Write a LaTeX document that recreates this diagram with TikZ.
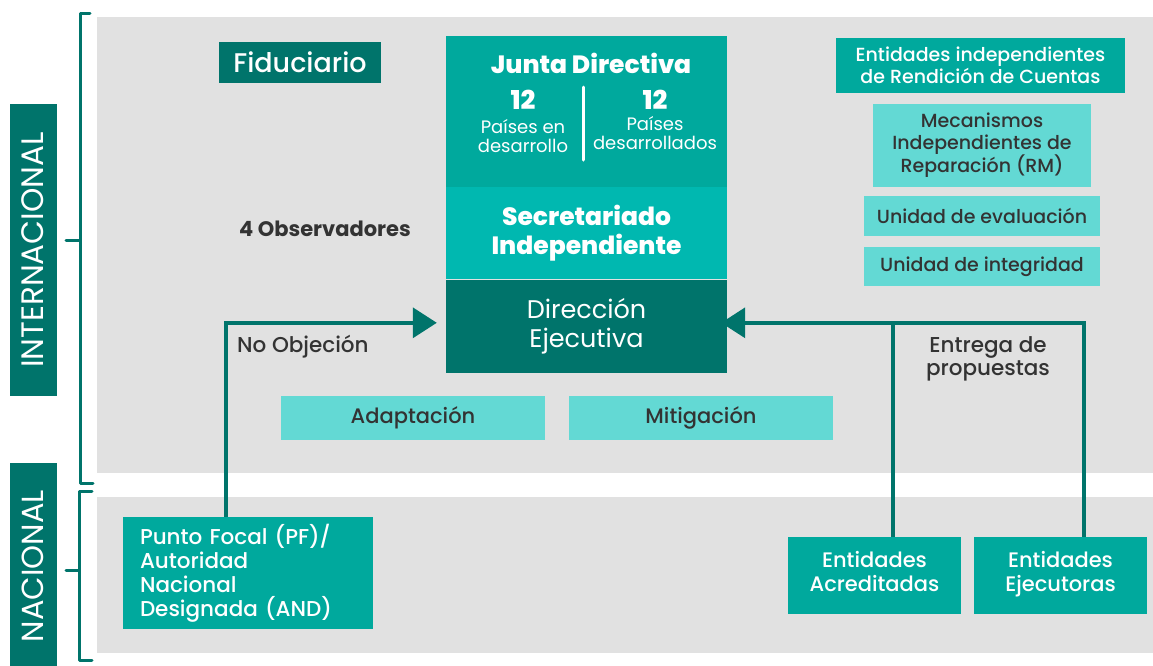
\documentclass[tikz,border=0pt]{standalone}
\usepackage{fontspec}
\setmainfont{Poppins}
\newfontfamily\medfont{Poppins Medium}
\newfontfamily\heavyfont{Poppins ExtraBold}
\usetikzlibrary{positioning,arrows.meta}

\definecolor{darkteal}{HTML}{00746B}
\definecolor{midteal}{HTML}{00A99D}
\definecolor{brightteal}{HTML}{00B8B0}
\definecolor{lightteal}{HTML}{63D9D4}
\definecolor{panelgray}{HTML}{E1E1E1}
\definecolor{inkgray}{HTML}{333333}

\begin{document}
\begin{tikzpicture}[x=1pt, y=-1pt, >={Triangle[length=24pt,width=30pt]}]

    \tikzstyle{darkbox}=[fill=darkteal, text=white, inner sep=0pt, align=center]
    \tikzstyle{midbox}=[fill=midteal, text=white, inner sep=0pt, align=center]
    \tikzstyle{lightbox}=[fill=lightteal, text=inkgray, inner sep=0pt, align=center, font=\medfont\fontsize{19}{21.5}\selectfont]
    \tikzstyle{note}=[text=inkgray, inner sep=0pt, font=\medfont\fontsize{21.5}{23}\selectfont]
    \tikzstyle{flow}=[->, darkteal, line width=3.5pt]
    \tikzstyle{bracket}=[darkteal, line width=3pt, line cap=round, line join=round]

    \useasboundingbox[fill=white] (0,0) rectangle (1153,665);

    % panels
    \fill[panelgray] (97,17) rectangle (1153,473);
    \fill[panelgray] (97,497) rectangle (1153,653);

    % brackets
    \draw[bracket] (90,13) -- (80,13) -- (80,483) -- (93,483);
    \draw[bracket] (66,240) -- (80,240);
    \draw[bracket] (92,491) -- (79,491) -- (79,660) -- (92,660);
    \draw[bracket] (66,570) -- (79,570);

    % level labels
    \node[darkbox, rotate=90, minimum width=292, minimum height=47,
          font=\fontsize{31}{34}\selectfont] (inter) at (33,250) {INTERNACIONAL};
    \node[darkbox, rotate=90, minimum width=206, minimum height=47,
          font=\fontsize{30.5}{34}\selectfont] (nac) at (33,566) {NACIONAL};

    % central column
    \node[midbox, minimum width=281, minimum height=151] (junta) at (586.5,111.5) {};
    \node[brightteal, fill=brightteal, minimum width=281, minimum height=92, inner sep=0pt,
          below=0pt of junta, text=white, align=center,
          font=\heavyfont\fontsize{25}{29}\selectfont] (secr) {Secretariado\\Independiente};
    \node[darkbox, minimum width=281, minimum height=93, below=0pt of secr,
          font=\fontsize{25.5}{29}\selectfont] (direc) {Dirección\\Ejecutiva};

    \node[text=white, font=\heavyfont\fontsize{25}{28}\selectfont] (jtitle) at (591,63) {Junta Directiva};
    \node[text=white, font=\heavyfont\fontsize{26}{28}\selectfont] (nleft) at (523,100) {12};
    \node[text=white, font=\heavyfont\fontsize{26}{28}\selectfont] (nright) at (655,100) {12};
    \node[text=white, align=center, inner sep=0pt, font=\fontsize{18}{18.5}\selectfont] (dev) at (523,136) {Países en\\desarrollo};
    \node[text=white, align=center, inner sep=0pt, font=\fontsize{18}{18.5}\selectfont] (devd) at (655,133) {Países\\desarrollados};
    \draw[white, line width=3pt, line cap=round] (583,87) -- (583,160);

    \node[darkbox, minimum width=162, minimum height=41,
          font=\medfont\fontsize{27}{30}\selectfont] (fid) at (300,62.5) {Fiduciario};
    \node[note, font=\bfseries\fontsize{21}{23}\selectfont] (obs) at (325,229) {4 Observadores};

    % right column
    \node[midbox, minimum width=289, minimum height=55,
          font=\medfont\fontsize{19}{21.5}\selectfont] (rend) at (980.5,65.5) {Entidades independientes\\de Rendición de Cuentas};
    \node[lightbox, minimum width=218, minimum height=83] (mec) at (982,145.5) {Mecanismos\\Independientes de\\Reparación (RM)};
    \node[lightbox, minimum width=236, minimum height=40] (eval) at (982,216) {Unidad de evaluación};
    \node[lightbox, minimum width=236, minimum height=39] (integ) at (982,266.5) {Unidad de integridad};

    % themes
    \node[lightbox, minimum width=264, minimum height=44,
          font=\medfont\fontsize{21}{23}\selectfont] (adap) at (413,418) {Adaptación};
    \node[lightbox, minimum width=264, minimum height=44,
          font=\medfont\fontsize{21}{23}\selectfont] (mitig) at (701,418) {Mitigación};

    % national actors
    \node[midbox, minimum width=250, minimum height=112, align=left, text width=216,
          font=\medfont\fontsize{21.5}{24}\selectfont] (focal) at (248,573)
          {Punto Focal (PF)/\\Autoridad\\Nacional\\Designada (AND)};
    \node[midbox, minimum width=173, minimum height=77,
          font=\medfont\fontsize{21}{24}\selectfont] (acred) at (874.5,575.5) {Entidades\\Acreditadas\strut};
    \node[midbox, minimum width=173, minimum height=77,
          font=\medfont\fontsize{21}{24}\selectfont] (ejec) at (1060.5,575.5) {Entidades\\Ejecutoras\strut};

    % flows
    \draw[flow, shorten >=9pt] ([xshift=-22pt]focal.north) |- ([yshift=3.5pt]direc.west);
    \draw[flow, shorten >=-6pt] ([xshift=23.5pt]ejec.north) |- ([yshift=3.5pt]direc.east);
    \draw[darkteal, line width=3.5pt] ([xshift=18.5pt]acred.north) -- ([xshift=18.5pt]acred.north |- 0,322);

    \node[note, anchor=west] (noobj) at (237,347) {No Objeción};
    \node[note, align=center] (entrega) at (988,359) {Entrega de\\propuestas};
\end{tikzpicture}
\end{document}
